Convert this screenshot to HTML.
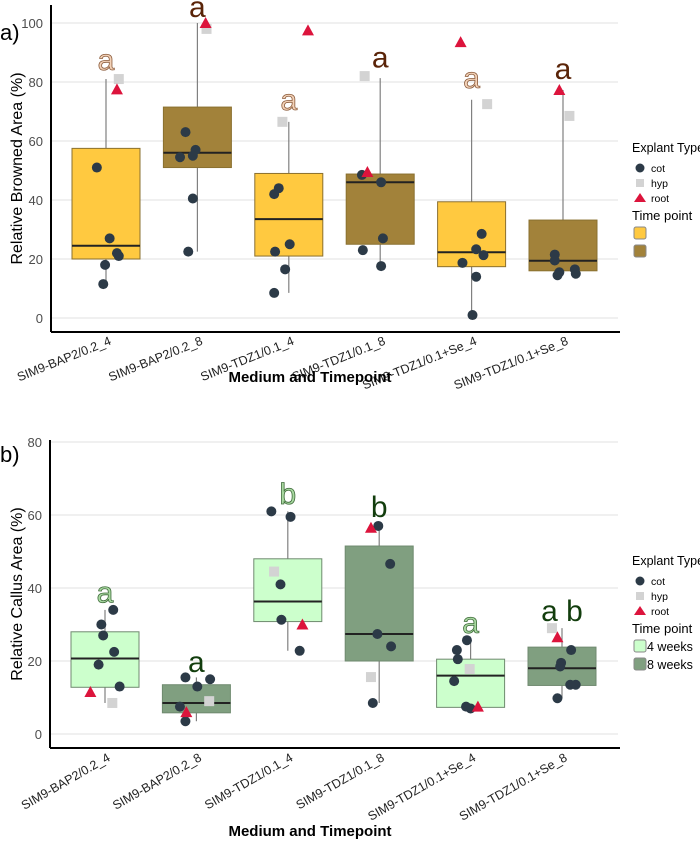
<!DOCTYPE html>
<html><head><meta charset="utf-8"><style>
body{margin:0;background:#fff;}
svg{display:block;font-family:"Liberation Sans",Arial,sans-serif;}
</style></head><body>
<svg id="chart" width="700" height="847" viewBox="0 0 700 847"></svg>
<script>
const categories=["SIM9-BAP2/0.2_4","SIM9-BAP2/0.2_8","SIM9-TDZ1/0.1_4","SIM9-TDZ1/0.1_8","SIM9-TDZ1/0.1+Se_4","SIM9-TDZ1/0.1+Se_8"];
const yTicks=[0,20,40,60,80,100];
const yTicksB=[0,20,40,60,80];
// box stats: [lowWhisker,q1,median,q3,highWhisker]
const boxesA=[[11.5,20,24.5,57.5,81],[22.5,51,56,71.5,100],[8.5,21,33.5,49,66.5],[17.6,25,46,48.8,81.3],[1,17.4,22.3,39.4,74],[14.5,16,19.4,33.2,77.3]];
const boxesB=[[8.5,12.8,20.7,28,34],[3.5,5.8,8.5,13.5,15.5],[22.8,30.8,36.3,48,61],[8.5,20,27.4,51.5,57],[7,7.3,16,20.5,25.7],[9.8,13.3,18,23.8,29]];
// points: [value, jitter (1/100 category)]
const cotA=[[[51,-10],[27,4],[22,12],[21,14],[18,-1],[11.5,-3]],[[63,-13],[57,-2],[55,-5],[54.5,-19],[40.5,-5],[22.5,-10]],[[44,-11],[42,-16],[25,1],[22.5,-15],[16.5,-4],[8.5,-16]],[[48.5,-20],[46,1],[27,3],[23,-19],[17.6,1]],[[28.5,11],[23.3,5],[21.3,13],[18.7,-10],[14,5],[1,1]],[[21.5,-9],[19.5,-9],[16.5,13],[15.5,-4],[15,14],[14.5,-6]]];
const hypA=[[81,14],[98,10],[66.5,-7],[82,-17],[72.5,17],[68.5,7]];
const rootA=[[77.5,12],[100,9],[97.5,21],[49.5,-14],[93.5,-12],[77.3,-4]];
const cotB=[[[34,9],[30,-4],[27,-2],[22.5,10],[19,-7],[13,16]],[[15.5,-12],[15,15],[13,1],[7.5,-18],[3.5,-12]],[[61,-18],[59.5,3],[41,-8],[31.3,-7],[22.8,13]],[[57,-1],[46.6,12],[27.4,-2],[24,13],[8.5,-7]],[[25.7,-4],[23,-15],[20.5,-14],[14.5,-18],[7.5,-5],[7,0]],[[23,10],[19.5,-1],[18.5,-2],[13.5,9],[13.5,15],[9.8,-5]]];
const hypB=[[8.5,8],[9,14],[44.5,-15],[15.6,-9],[17.8,-1],[29,-11]];
const rootB=[[11.5,-16],[6,-11],[30,16],[56.5,-9],[7.5,8],[26.5,-5]];
const lettersA=["a","a","a","a","a","a"];
const lettersAY=[84,102,70.5,85,78,81];
const lettersB=["a","a","b","b","a","a b"];
const lettersBY=[36,17,63,59.5,27.7,31];

const NS="http://www.w3.org/2000/svg";
const svg=document.getElementById('chart');
function el(tag,attrs,parent,text){const e=document.createElementNS(NS,tag);for(const k in attrs)e.setAttribute(k,attrs[k]);if(text!==undefined)e.textContent=text;(parent||svg).appendChild(e);return e;}

function panel(cfg){
  const g=el('g',{});
  
  
  const x=i=>cfg.x0+i*cfg.step;
  const y=v=>cfg.yZero-v*cfg.ys;
  const jx=(i,j)=>x(i)+j*cfg.step/100;
  cfg.ticks.forEach(t=>{
    const l=el('line',{x1:cfg.axisX,x2:618,y1:y(t),y2:y(t),stroke:'#e6e6e6','stroke-width':1.2},g);
    
    
    const tx=el('text',{x:cfg.axisX-8,y:y(t)+5,'text-anchor':'end','font-size':13,fill:'#4d4d4d'},g,String(t));
    
    
  });
  cfg.boxes.forEach((b,i)=>{
    const cx=x(i), w=68;
    const fill=i%2===0?cfg.light:cfg.dark;
    const wl=el('line',{x1:cx,x2:cx,y1:y(b[0]),y2:y(b[4]),stroke:'#808080','stroke-width':1.2},g);
    
    
    const r=el('rect',{x:cx-w/2,y:y(b[3]),width:w,height:y(b[1])-y(b[3]),fill:fill,stroke:cfg.stroke,'stroke-width':1},g);
    
    
    const m=el('line',{x1:cx-w/2,x2:cx+w/2,y1:y(b[2]),y2:y(b[2]),stroke:'#222','stroke-width':2},g);
    
    
  });
  cfg.hyp.forEach((p,i)=>{
    const px=jx(i,p[1]), py=y(p[0]);
    const s=el('rect',{x:px-5,y:py-5,width:10,height:10,fill:'#d3d3d3'},g);
    
    
  });
  cfg.cot.forEach((arr,i)=>arr.forEach(p=>{
    const c=el('circle',{cx:jx(i,p[1]),cy:y(p[0]),r:5,fill:'#2c3a47'},g);
    
    
  }));
  cfg.root.forEach((p,i)=>{
    const px=jx(i,p[1]), py=y(p[0]);
    const t=el('polygon',{points:`${px},${py-6} ${px-6},${py+5} ${px+6},${py+5}`,fill:'#dc143c'},g);
    
    
  });
  cfg.letters.forEach((L,i)=>{
    const light=i%2===0;
    const t=el('text',{x:x(i),y:y(cfg.lettersY[i]),'text-anchor':'middle','font-size':30,fill:light?cfg.lLight:cfg.lDark,stroke:light?cfg.lLightStroke:'none','stroke-width':0.8},g,L);
    
    
  });
  const ya=el('line',{x1:cfg.axisX,x2:cfg.axisX,y1:cfg.top,y2:cfg.axisY,stroke:'#000','stroke-width':2},g);
  
  
  const xa=el('line',{x1:cfg.axisX,x2:620,y1:cfg.axisY,y2:cfg.axisY,stroke:'#000','stroke-width':2},g);
  
  
  categories.forEach((c,i)=>{
    const tx=x(i)+6, ty=cfg.axisY+12;
    const t=el('text',{x:tx,y:ty,'text-anchor':'end','font-size':12.5,fill:'#222',transform:`rotate(${cfg.rot} ${tx} ${ty})`},g,c);
    
    
  });
  const xt=el('text',{x:310,y:cfg.axisY+cfg.titleOff,'text-anchor':'middle','font-size':15,'font-weight':'bold',fill:'#000'},g,'Medium and Timepoint');
  
  
  const cyT=(cfg.top+cfg.axisY)/2;
  const yt=el('text',{x:22,y:cyT,'text-anchor':'middle','font-size':16,fill:'#000',transform:`rotate(-90 22 ${cyT})`},g,cfg.ytitle);
  
  
  const pl=el('text',{x:0,y:cfg.labelY,'font-size':22,fill:'#000'},g,cfg.label);
  
  
  const lg=el('g',{},g);
  
  
  const L=cfg.leg;
  el('text',{x:632,y:L,'font-size':12.5,fill:'#000'},lg,'Explant Type');
  el('circle',{cx:640,cy:L+16,r:4.5,fill:'#2c3a47'},lg);
  el('text',{x:651,y:L+20,'font-size':10.5,fill:'#000'},lg,'cot');
  el('rect',{x:636,y:L+27,width:8,height:8,fill:'#d3d3d3'},lg);
  el('text',{x:651,y:L+35,'font-size':10.5,fill:'#000'},lg,'hyp');
  el('polygon',{points:`640,${L+41} 634,${L+50} 646,${L+50}`,fill:'#dc143c'},lg);
  el('text',{x:651,y:L+50,'font-size':10.5,fill:'#000'},lg,'root');
  el('text',{x:632,y:L+68,'font-size':13,fill:'#000'},lg,'Time point');
  el('rect',{x:634,y:L+75,width:12,height:12,rx:2,fill:cfg.light,stroke:'#888'},lg);
  el('rect',{x:634,y:L+93,width:12,height:12,rx:2,fill:cfg.dark,stroke:'#888'},lg);
  if(cfg.wk){
    el('text',{x:647,y:L+86,'font-size':12.5,fill:'#000'},lg,'4 weeks');
    el('text',{x:647,y:L+104,'font-size':12.5,fill:'#000'},lg,'8 weeks');
  }
}
panel({name:'panel-a-browned',x0:106,step:91.4,yZero:318,ys:2.95,ticks:yTicks,boxes:boxesA,cot:cotA,hyp:hypA,root:rootA,letters:lettersA,lettersY:lettersAY,
  light:'#ffc940',dark:'#a2823a',stroke:'#8a7030',lLight:'#f3d2b8',lLightStroke:'#8a5a3a',lDark:'#5a2408',
  axisX:51,axisY:332,top:5,ytitle:'Relative Browned Area (%)',label:'a)',labelY:40,leg:152,wk:false,rot:-22,titleOff:50});
panel({name:'panel-b-callus',x0:105,step:91.4,yZero:734,ys:3.65,ticks:yTicksB,boxes:boxesB,cot:cotB,hyp:hypB,root:rootB,letters:lettersB,lettersY:lettersBY,
  light:'#ccffcc',dark:'#809f80',stroke:'#6f8a6f',lLight:'#a8d8a0',lLightStroke:'#3e6b3a',lDark:'#123d0d',
  axisX:50,axisY:748,top:440,ytitle:'Relative Callus Area (%)',label:'b)',labelY:462,leg:565,wk:true,rot:-30,titleOff:88});
</script>
</body></html>
